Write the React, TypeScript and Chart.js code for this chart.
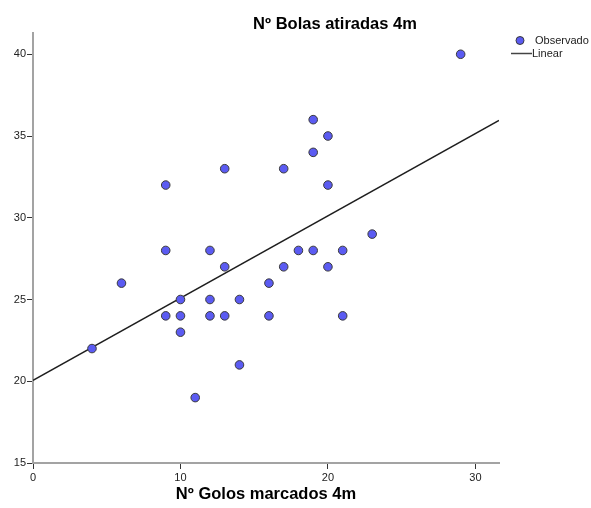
import React, { useEffect, useRef } from "react";
import { Chart, registerables } from "chart.js";
Chart.register(...registerables);

// Observed values (Nº Golos marcados 4m vs Nº Bolas atiradas 4m)
const golos = [4, 6, 9, 9, 9, 10, 10, 10, 11, 12, 12, 12, 13, 13, 13, 14, 14, 16, 16, 17, 17, 18, 19, 19, 19, 20, 20, 20, 21, 21, 23, 29];
const bolas = [22, 26, 32, 28, 24, 25, 24, 23, 19, 28, 25, 24, 33, 27, 24, 25, 21, 26, 24, 33, 27, 28, 36, 34, 28, 35, 32, 27, 28, 24, 29, 40];

// Linear fit line
const fitX = [0, 31.6];
const fitY = [20.05, 35.95];

const xTicks = [0, 10, 20, 30];
const yTicks = [15, 20, 25, 30, 35, 40];

const chartTitle = "Nº Bolas atiradas 4m";
const xTitle = "Nº Golos marcados 4m";
const legendLabels = ["Observado", "Linear"];

const FONT = '"Liberation Sans", Arial, sans-serif';
const POINT_FILL = "#5b5bf2";
const POINT_BORDER = "#3a3a3a";
const LINE_COLOR = "#1e1e1e";

const overlayPlugin = {
  id: "overlay",
  afterDraw(chart: any) {
    const ctx = chart.ctx;
    ctx.save();
    // Title
    ctx.fillStyle = "#000";
    ctx.font = `bold 16.5px ${FONT}`;
    ctx.textAlign = "center";
    ctx.textBaseline = "alphabetic";
    ctx.fillText(chartTitle, 335, 29);
    // Legend
    ctx.beginPath();
    ctx.arc(520, 40.5, 4, 0, Math.PI * 2);
    ctx.fillStyle = POINT_FILL;
    ctx.fill();
    ctx.lineWidth = 1;
    ctx.strokeStyle = POINT_BORDER;
    ctx.stroke();
    ctx.beginPath();
    ctx.moveTo(511, 53.5);
    ctx.lineTo(532, 53.5);
    ctx.lineWidth = 1.5;
    ctx.strokeStyle = "#444";
    ctx.stroke();
    ctx.fillStyle = "#222";
    ctx.font = `11px ${FONT}`;
    ctx.textAlign = "left";
    ctx.textBaseline = "middle";
    ctx.fillText(legendLabels[0], 535, 40.5);
    ctx.fillText(legendLabels[1], 532, 53.5);
    ctx.restore();
  },
};

export default function App() {
  const ref = useRef<HTMLCanvasElement>(null);
  useEffect(() => {
    document.body.style.margin = "0";
    const canvas = ref.current!;
    const points = golos.map((g, i) => ({ x: g, y: bolas[i] }));
    const line = fitX.map((x, i) => ({ x, y: fitY[i] }));
    const chart = new Chart(canvas, {
      type: "scatter",
      data: {
        datasets: [
          {
            type: "scatter",
            label: legendLabels[0],
            data: points,
            pointRadius: 4.3,
            pointBackgroundColor: POINT_FILL,
            pointBorderColor: POINT_BORDER,
            pointBorderWidth: 1,
          },
          {
            type: "line",
            label: legendLabels[1],
            data: line,
            borderColor: LINE_COLOR,
            borderWidth: 1.5,
            pointRadius: 0,
            fill: false,
          } as any,
        ],
      },
      plugins: [overlayPlugin],
      options: {
        animation: false,
        responsive: false,
        devicePixelRatio: 1,
        layout: { padding: { top: 33, right: 92, left: 0, bottom: 0 } },
        plugins: {
          legend: { display: false },
          title: { display: false },
          tooltip: { enabled: false },
        },
        scales: {
          x: {
            type: "linear",
            min: 0,
            max: 31.6,
            afterBuildTicks: (s: any) => {
              s.ticks = xTicks.map((v) => ({ value: v }));
            },
            afterFit: (s: any) => {
              s.height = 45;
            },
            ticks: { color: "#222", font: { family: FONT, size: 11 }, padding: 2, maxRotation: 0 },
            grid: { drawOnChartArea: false, drawTicks: true, tickLength: 6, tickColor: "#333", tickWidth: 1 },
            border: { display: true, color: "#a3a3a3", width: 2 },
            title: {
              display: true,
              text: xTitle,
              color: "#000",
              font: { family: FONT, size: 16.5, weight: "bold" },
              padding: { top: 0, bottom: 4 },
            },
          },
          y: {
            type: "linear",
            min: 15,
            max: 41.3,
            afterBuildTicks: (s: any) => {
              s.ticks = yTicks.map((v) => ({ value: v }));
            },
            afterFit: (s: any) => {
              s.width = 33;
            },
            ticks: { color: "#222", font: { family: FONT, size: 11 }, padding: 1 },
            grid: { drawOnChartArea: false, drawTicks: true, tickLength: 6, tickColor: "#333", tickWidth: 1 },
            border: { display: true, color: "#a3a3a3", width: 2 },
          },
        },
      } as any,
    });
    return () => chart.destroy();
  }, []);
  return (
    <div style={{ position: "absolute", left: 0, top: 0, width: 591, height: 508, background: "#fff" }}>
      <canvas ref={ref} width={591} height={508} style={{ width: 591, height: 508, display: "block" }} />
    </div>
  );
}
